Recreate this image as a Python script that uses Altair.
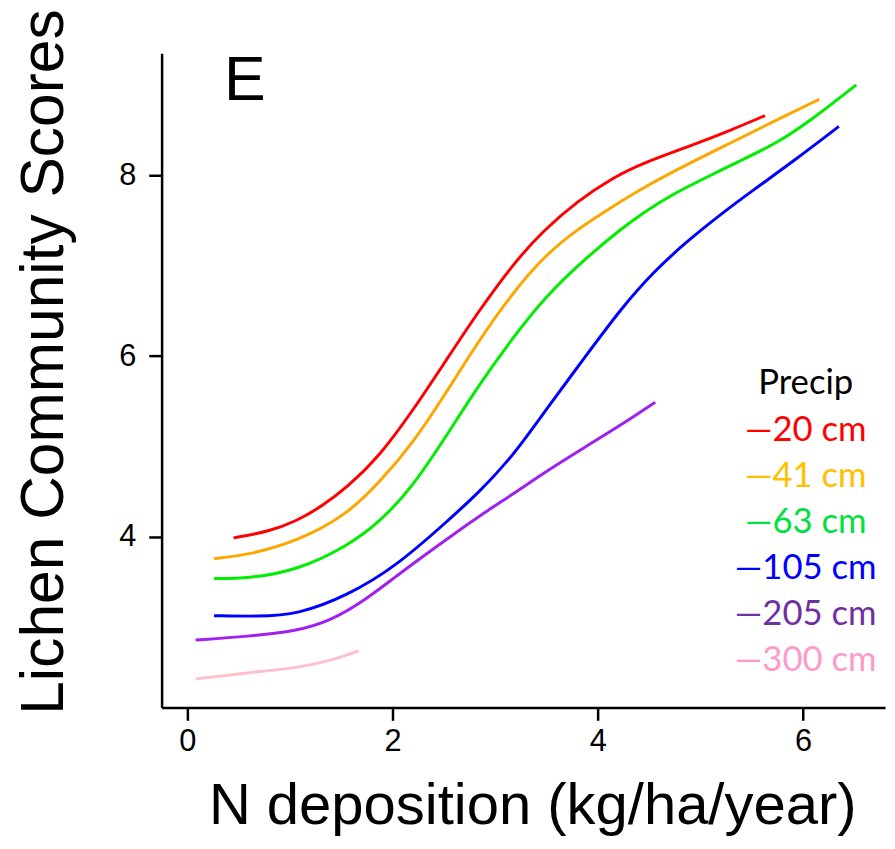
import altair as alt
import pandas as pd

# ---- data ----
precip = ["20 cm", "41 cm", "63 cm", "105 cm", "205 cm", "300 cm"]
line_colors = ["#FF0000", "#FFA500", "#00EE00", "#0000FF", "#A020F0", "#FFC0CB"]
text_colors = ["#FF0000", "#FFC000", "#00E040", "#0000FF", "#7030A0", "#FF99CC"]

x_20 = [0.45, 0.80, 1.07, 1.30, 1.56, 1.87, 2.20, 2.52, 2.84, 3.17, 3.46, 3.81, 4.14, 4.45, 4.94, 5.30, 5.63]
y_20 = [3.99, 4.06, 4.18, 4.33, 4.55, 4.89, 5.40, 5.95, 6.50, 7.01, 7.38, 7.72, 7.97, 8.14, 8.34, 8.50, 8.66]

x_41 = [0.26, 0.59, 1.07, 1.56, 1.87, 2.20, 2.52, 2.84, 3.17, 3.49, 3.81, 4.14, 4.45, 4.94, 5.30, 5.74, 6.16]
y_41 = [3.76, 3.80, 3.95, 4.25, 4.60, 5.04, 5.59, 6.17, 6.70, 7.12, 7.41, 7.65, 7.87, 8.16, 8.36, 8.61, 8.84]

x_63 = [0.26, 0.59, 1.07, 1.56, 1.87, 2.20, 2.52, 2.84, 3.17, 3.49, 3.87, 4.23, 4.45, 4.71, 5.10, 5.35, 5.74, 6.07, 6.52]
y_63 = [3.54, 3.54, 3.63, 3.90, 4.16, 4.56, 5.11, 5.68, 6.20, 6.66, 7.07, 7.41, 7.59, 7.78, 8.00, 8.14, 8.35, 8.60, 9.00]

x_105 = [0.26, 0.69, 1.07, 1.56, 2.04, 2.52, 2.84, 3.17, 3.49, 3.87, 4.23, 4.55, 4.87, 5.20, 5.52, 5.90, 6.35]
y_105 = [3.13, 3.12, 3.14, 3.35, 3.68, 4.16, 4.49, 4.89, 5.40, 5.98, 6.53, 6.94, 7.27, 7.57, 7.84, 8.15, 8.54]

x_205 = [0.08, 0.59, 1.07, 1.39, 1.72, 2.04, 2.40, 2.84, 3.17, 3.49, 3.87, 4.23, 4.56]
y_205 = [2.86, 2.90, 2.96, 3.07, 3.29, 3.57, 3.87, 4.23, 4.47, 4.72, 4.99, 5.24, 5.49]

x_300 = [0.08, 0.59, 1.07, 1.39, 1.67]
y_300 = [2.43, 2.50, 2.55, 2.63, 2.74]

x_ticks = [0, 2, 4, 6]
y_ticks = [4, 6, 8]

series = [(x_20, y_20), (x_41, y_41), (x_63, y_63), (x_105, y_105), (x_205, y_205), (x_300, y_300)]
rows = []
for name, (xs, ys) in zip(precip, series):
    for i, (xv, yv) in enumerate(zip(xs, ys)):
        rows.append({"precip": name, "x": xv, "y": yv, "order": i})
df = pd.DataFrame(rows)

W, H = 730, 660
FONT = "Liberation Sans"

lines = alt.Chart(df).mark_line(strokeWidth=3, interpolate="basis").encode(
    x=alt.X("x:Q", scale=alt.Scale(domain=[-0.251, 6.80], nice=False, zero=False),
            axis=alt.Axis(values=x_ticks, title="N deposition (kg/ha/year)",
                          titleY=117, titleX=374, labelPadding=6,
                          labelFontSize=31, titleFontSize=58.5)),
    y=alt.Y("y:Q", scale=alt.Scale(domain=[2.115, 9.348], nice=False, zero=False),
            axis=alt.Axis(values=y_ticks, title="Lichen Community Scores",
                          titleX=-100, titleY=311, labelPadding=13,
                          labelFontSize=31, titleFontSize=61)),
    color=alt.Color("precip:N", scale=alt.Scale(domain=precip, range=line_colors), legend=None),
    detail="precip:N",
    order="order:Q",
)

# panel letter
panel = alt.Chart(pd.DataFrame({"t": ["E"]})).mark_text(
    font=FONT, fontSize=63, align="left", baseline="alphabetic", color="black"
).encode(text="t:N", x=alt.value(63), y=alt.value(47))

# in-plot legend (laid out from the category list)
leg_rows = [{"label": "Precip", "col": "black", "px": 650, "py": 333}]
for i, (p, c) in enumerate(zip(precip, text_colors)):
    leg_rows.append({"label": "\u2014" + p, "col": c, "px": 650, "py": 380 + 46.4 * i})
leg_df = pd.DataFrame(leg_rows)
legend = alt.Chart(leg_df).mark_text(
    font="Lato", fontSize=35, align="center", baseline="middle"
).encode(
    text="label:N",
    x=alt.X("px:Q", scale=None),
    y=alt.Y("py:Q", scale=None),
    color=alt.Color("col:N", scale=None),
)

chart = alt.layer(lines, panel, legend).properties(
    width=W, height=H,
    autosize=alt.AutoSizeParams(type="none"),
    padding={"left": 155, "top": 42, "right": 2, "bottom": 130},
).configure_view(stroke=None).configure_axis(
    grid=False,
    domainColor="black", domainWidth=2.5,
    tickColor="black", tickWidth=2.5, tickSize=13,
    labelFont=FONT, labelColor="black",
    titleFont=FONT, titleFontWeight="normal", titleColor="black",
    titleBaseline="alphabetic",
)

chart.save("out.html", embed_options={"renderer": "svg", "actions": False})
